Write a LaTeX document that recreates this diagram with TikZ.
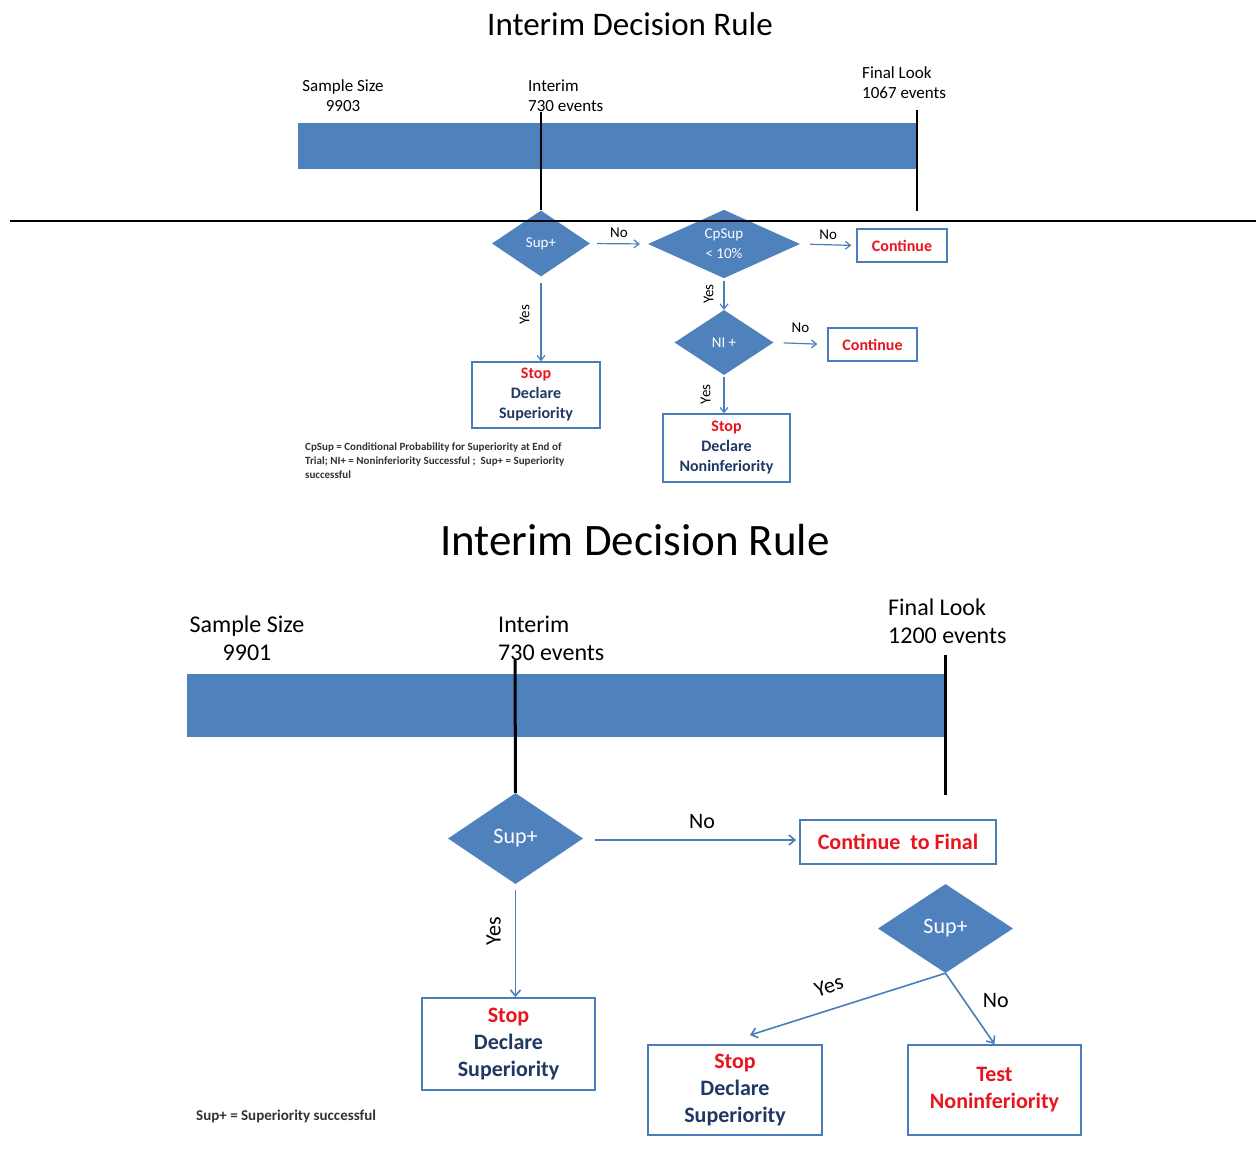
\documentclass[tikz,border=0pt]{standalone}
\usepackage{fontspec}
\setmainfont{Carlito}
\usetikzlibrary{shapes.geometric,arrows.meta}
\definecolor{obar}{HTML}{4F81BD}
\definecolor{oline}{HTML}{4A7EBB}
\definecolor{ored}{HTML}{E8141E}
\definecolor{onavy}{HTML}{1F3864}
\definecolor{fgray}{HTML}{333333}
\begin{document}
\begin{tikzpicture}[x=1pt,y=-1pt,
  dia/.style={diamond,fill=obar,inner sep=0pt,text=white,align=center},
  rbox/.style={draw=oline,fill=white,inner sep=0pt,align=center},
  barbox/.style={rectangle,fill=obar,inner sep=0pt},
  vline/.style={draw=black,line width=2.6pt},
  arr/.style={-{Straight Barb[length=5pt,width=8pt]},draw=oline,line width=1.2pt},
  arrB/.style={-{Straight Barb[length=6pt,width=10pt]},draw=oline,line width=1.6pt},
  lbl/.style={text=black,inner sep=2pt},
  fsA/.style={font=\fontsize{15}{20}\selectfont},
  fsB/.style={font=\fontsize{16}{20}\selectfont\bfseries},
  fsC/.style={font=\fontsize{22}{27}\selectfont},
  fsD/.style={font=\fontsize{22}{27}\selectfont\bfseries}]
\useasboundingbox[fill=white] (0,0) rectangle (1256,1165);

% ================= TOP =================
\node[font=\fontsize{33}{38}\selectfont] (t1) at (630,24) {Interim Decision Rule};
\node[barbox,minimum width=619pt,minimum height=46pt] (bar1) at (607.5,146) {};
\node[align=center,font=\fontsize{17}{20}\selectfont] (ss1) at (343,96) {Sample Size\\9903};
\node[align=left,anchor=west,inner sep=0pt,font=\fontsize{17}{20}\selectfont] (in1) at (528,96) {Interim\\730 events};
\node[align=left,anchor=west,inner sep=0pt,font=\fontsize{17}{20}\selectfont] (fl1) at (862,83) {Final Look\\1067 events};

\node[dia,fsA,minimum width=98pt,minimum height=66pt] (s1) at (541,243.5) {Sup+};
\node[dia,fsA,minimum width=152pt,minimum height=56pt] (c1) at (724,244) {CpSup\\< 10\%};
\node[dia,fsA,minimum width=99pt,minimum height=65pt] (n1) at (724,342.5) {NI +};
\node[rbox,line width=1.4pt,minimum width=90pt,minimum height=33pt,fsB,text=ored] (k1) at (902,245.5) {Continue};
\node[rbox,line width=1.4pt,minimum width=89pt,minimum height=33pt,fsB,text=ored] (k2) at (872.5,344.5) {Continue};
\node[rbox,line width=1.4pt,minimum width=128pt,minimum height=66pt,fsB] (st1) at (536,395)
  {\textcolor{ored}{Stop}\\\textcolor{onavy}{Declare}\\\textcolor{onavy}{Superiority}};
\node[rbox,line width=1.4pt,minimum width=127pt,minimum height=68pt,fsB] (st2) at (726.5,448)
  {\textcolor{ored}{Stop}\\\textcolor{onavy}{Declare}\\\textcolor{onavy}{Noninferiority}};

\coordinate (v1a) at (541,112);
\coordinate (v1b) at (917,110);
\coordinate (v1c) at (917,211);
\draw[vline] (v1a) -- (s1.north);
\draw[vline] (v1b) -- (v1c);
\coordinate (h1) at (10,221);
\coordinate (h2) at (1256,221);
\draw[black,line width=1.5pt] (h1) -- (h2);

\draw[arr,shorten <=7pt,shorten >=8pt] (s1.east) -- node[lbl,fsA,above=4pt] {No} (c1.west);
\draw[arr,shorten <=10pt,shorten >=5pt] (c1.east) -- node[lbl,fsA,above=3pt] {No} (k1.west);
\draw[arr,shorten <=6pt] (s1.south) -- node[lbl,fsA,pos=0.45,rotate=90,anchor=south,inner sep=11pt] {Yes} (s1.south |- st1.north);
\draw[arr,shorten <=3pt] (c1.south) -- node[lbl,fsA,rotate=90,anchor=south,inner sep=10pt] {Yes} (n1.north);
\draw[arr,shorten <=10pt,shorten >=10pt] (n1.east) -- node[lbl,fsA,above=8pt] {No} (k2.west);
\draw[arr,shorten <=2pt] (n1.south) -- node[lbl,fsA,rotate=90,anchor=south,inner sep=13pt] {Yes} (n1.south |- st2.north);

\node[anchor=north west,align=left,inner sep=0pt,text=fgray,font=\fontsize{11}{14}\selectfont\bfseries] (fn1) at (305,443)
  {CpSup = Conditional Probability for Superiority at End of\\Trial; NI+ = Noninferiority Successful ;\ \ Sup+ = Superiority\\successful};

% ================= BOTTOM =================
\node[font=\fontsize{45}{52}\selectfont] (t2) at (635,540) {Interim Decision Rule};
\node[barbox,minimum width=758pt,minimum height=63pt] (bar2) at (566,705.5) {};
\node[align=center,font=\fontsize{24}{28}\selectfont] (ss2) at (247,638) {Sample Size\\9901};
\node[align=left,anchor=west,inner sep=0pt,font=\fontsize{24}{28}\selectfont] (in2) at (498,638) {Interim\\730 events};
\node[align=left,anchor=west,inner sep=0pt,font=\fontsize{24}{28}\selectfont] (fl2) at (888,621) {Final Look\\1200 events};

\node[dia,fsC,minimum width=135pt,minimum height=91pt] (s2) at (515.5,838.5) {Sup+};
\node[dia,fsC,minimum width=135pt,minimum height=89pt] (d2) at (945.5,928.5) {Sup+};
\node[rbox,line width=1.8pt,minimum width=196pt,minimum height=44pt,fsD,text=ored] (k3) at (898,842) {Continue\ \ to Final};
\node[rbox,line width=1.8pt,minimum width=173pt,minimum height=92pt,fsD] (st3) at (508.5,1044)
  {\textcolor{ored}{Stop}\\\textcolor{onavy}{Declare}\\\textcolor{onavy}{Superiority}};
\node[rbox,line width=1.8pt,minimum width=174pt,minimum height=90pt,fsD] (st4) at (735,1090)
  {\textcolor{ored}{Stop}\\\textcolor{onavy}{Declare}\\\textcolor{onavy}{Superiority}};
\node[rbox,line width=1.8pt,minimum width=173pt,minimum height=90pt,fsD,text=ored] (t5) at (994.5,1090)
  {Test\\Noninferiority};

\coordinate (v2a) at (515,660);
\coordinate (v2b) at (945,655);
\coordinate (v2c) at (945,795);
\draw[vline,line width=3pt] (v2a) -- (s2.north);
\draw[vline,line width=3pt] (v2b) -- (v2c);

\draw[arrB,shorten <=12pt,shorten >=3pt] ([yshift=-1.5pt]s2.east) -- node[lbl,fsC,pos=0.55,above=9pt] {No} ([yshift=-1.5pt]s2.east -| k3.west);
\draw[arrB,shorten <=6pt] (s2.south) -- node[lbl,fsC,pos=0.42,rotate=90,anchor=south,inner sep=14pt] {Yes} (s2.south |- st3.north);
\draw[arrB] (d2.south) -- node[lbl,fsC,pos=0.56,rotate=18,anchor=south,inner sep=15pt] {Yes} ([xshift=15pt,yshift=9pt]st4.north);
\draw[arrB] (d2.south) -- node[lbl,fsC,pos=0.38,anchor=west,inner sep=18pt] {No} (t5.north);

\node[anchor=west,inner sep=0pt,text=fgray,font=\fontsize{15}{17}\selectfont\bfseries] (fn2) at (196,1116) {Sup+ = Superiority successful};
\end{tikzpicture}
\end{document}
